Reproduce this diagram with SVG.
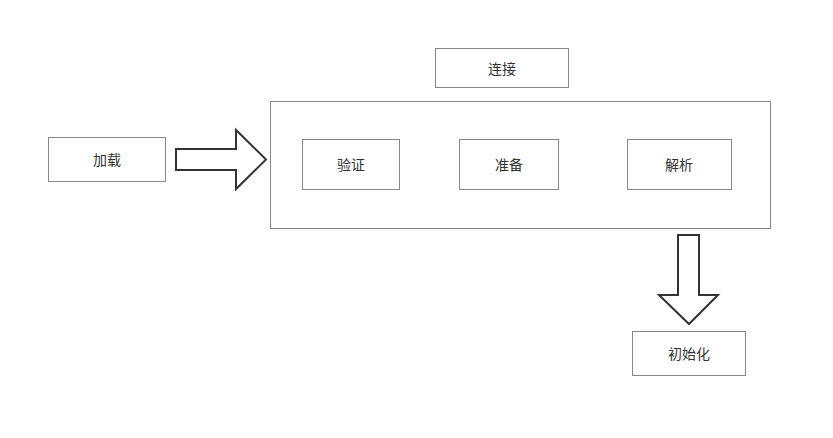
<svg xmlns="http://www.w3.org/2000/svg" width="833" height="438" viewBox="0 0 833 438">
<style>
.b{fill:#fff;stroke:#888;stroke-width:1}
.t{font-family:"Noto Sans CJK SC","Liberation Sans",sans-serif;font-size:14px;fill:#333;text-anchor:middle;dominant-baseline:central}
.a{fill:#fff;stroke:#333;stroke-width:2;stroke-linejoin:miter}
</style>
<rect width="833" height="438" fill="#fff"/>
<g id="container"><rect class="b" x="270.5" y="101.5" width="500" height="127"/></g>
<g id="n-jiazai"><rect class="b" x="48.5" y="137.5" width="117" height="44"/><text class="t" x="107" y="159">加载</text></g>
<g id="n-lianjie"><rect class="b" x="435.5" y="48.5" width="133" height="39"/><text class="t" x="502" y="68">连接</text></g>
<g id="n-yanzheng"><rect class="b" x="302.5" y="139.5" width="97" height="50"/><text class="t" x="351" y="164">验证</text></g>
<g id="n-zhunbei"><rect class="b" x="459.5" y="139.5" width="99" height="50"/><text class="t" x="509" y="164">准备</text></g>
<g id="n-jiexi"><rect class="b" x="627.5" y="139.5" width="104" height="50"/><text class="t" x="679" y="164">解析</text></g>
<g id="n-chushihua"><rect class="b" x="632.5" y="331.5" width="113" height="44"/><text class="t" x="689" y="353">初始化</text></g>
<g id="connectors">
<polygon class="a" points="176,149 236,149 236,130 266,159.5 236,189 236,170 176,170"/>
<polygon class="a" points="678,235 699,235 699,295 718,295 689,324 659,295 678,295"/>
</g>
</svg>
